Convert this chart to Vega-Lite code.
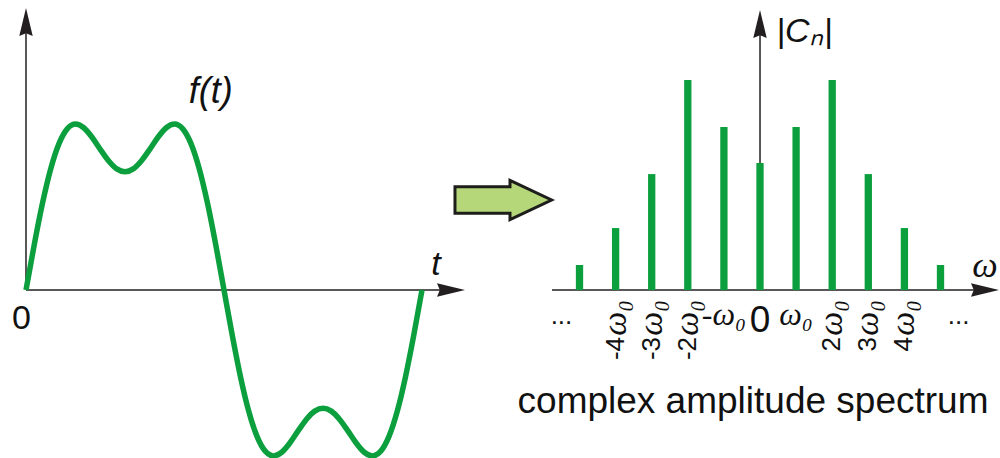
{
  "$schema": "https://vega.github.io/schema/vega-lite/v6.json",
  "width": 1000,
  "height": 458,
  "padding": 0,
  "autosize": "none",
  "background": "white",
  "config": {"view": {"stroke": null}},
  "datasets": {
    "signal": [
      {"t": 0, "f": 0}, {"t": 7.5, "f": 0.2568}, {"t": 15, "f": 0.4921}, {"t": 22.5, "f": 0.6876},
      {"t": 30, "f": 0.83}, {"t": 37.5, "f": 0.9137}, {"t": 45, "f": 0.9404}, {"t": 52.5, "f": 0.9197},
      {"t": 60, "f": 0.866}, {"t": 67.5, "f": 0.7976}, {"t": 75, "f": 0.7326}, {"t": 82.5, "f": 0.6865},
      {"t": 90, "f": 0.67}, {"t": 97.5, "f": 0.6865}, {"t": 105, "f": 0.7326}, {"t": 112.5, "f": 0.7976},
      {"t": 120, "f": 0.866}, {"t": 127.5, "f": 0.9197}, {"t": 135, "f": 0.9404}, {"t": 142.5, "f": 0.9137},
      {"t": 150, "f": 0.83}, {"t": 157.5, "f": 0.6876}, {"t": 165, "f": 0.4921}, {"t": 172.5, "f": 0.2568},
      {"t": 180, "f": 0}, {"t": 187.5, "f": -0.2568}, {"t": 195, "f": -0.4921}, {"t": 202.5, "f": -0.6876},
      {"t": 210, "f": -0.83}, {"t": 217.5, "f": -0.9137}, {"t": 225, "f": -0.9404}, {"t": 232.5, "f": -0.9197},
      {"t": 240, "f": -0.866}, {"t": 247.5, "f": -0.7976}, {"t": 255, "f": -0.7326}, {"t": 262.5, "f": -0.6865},
      {"t": 270, "f": -0.67}, {"t": 277.5, "f": -0.6865}, {"t": 285, "f": -0.7326}, {"t": 292.5, "f": -0.7976},
      {"t": 300, "f": -0.866}, {"t": 307.5, "f": -0.9197}, {"t": 315, "f": -0.9404}, {"t": 322.5, "f": -0.9137},
      {"t": 330, "f": -0.83}, {"t": 337.5, "f": -0.6876}, {"t": 345, "f": -0.4921}, {"t": 352.5, "f": -0.2568},
      {"t": 360, "f": 0}
    ],
    "spectrum": [
      {"n": -5, "mag": 0.119, "coef": ""}, {"n": -4, "mag": 0.295, "coef": "-4"}, {"n": -3, "mag": 0.552, "coef": "-3"},
      {"n": -2, "mag": 1.0, "coef": "-2"}, {"n": -1, "mag": 0.776, "coef": "-"}, {"n": 0, "mag": 0.605, "coef": "0"},
      {"n": 1, "mag": 0.776, "coef": ""}, {"n": 2, "mag": 1.0, "coef": "2"}, {"n": 3, "mag": 0.552, "coef": "3"},
      {"n": 4, "mag": 0.295, "coef": "4"}, {"n": 5, "mag": 0.119, "coef": ""}
    ]
  },
  "layer": [
    {
      "layer": [
        {
          "data": {"values": [{"axis": "t"}]},
          "mark": {"type": "rule", "stroke": "#231f20", "strokeWidth": 1.5},
          "encoding": {
            "x": {"datum": 0, "type": "quantitative", "scale": {"domain": [-23.636, 885.455], "nice": false, "zero": false}, "axis": null},
            "x2": {"datum": 392},
            "y": {"datum": 0, "type": "quantitative", "scale": {"domain": [-0.9524, 1.644], "nice": false, "zero": false}, "axis": null}
          }
        },
        {
          "data": {"values": [{"axis": "f"}]},
          "mark": {"type": "rule", "stroke": "#231f20", "strokeWidth": 1.5},
          "encoding": {
            "x": {"datum": 0, "type": "quantitative", "scale": {"domain": [-23.636, 885.455], "nice": false, "zero": false}, "axis": null},
            "y": {"datum": 0, "type": "quantitative", "scale": {"domain": [-0.9524, 1.644], "nice": false, "zero": false}, "axis": null},
            "y2": {"datum": 1.55}
          }
        },
        {
          "data": {"name": "signal"},
          "mark": {"type": "line", "stroke": "#0b9f3d", "strokeWidth": 5.5, "interpolate": "monotone", "strokeCap": "butt"},
          "encoding": {
            "x": {"field": "t", "type": "quantitative", "scale": {"domain": [-23.636, 885.455], "nice": false, "zero": false}, "axis": null},
            "y": {"field": "f", "type": "quantitative", "scale": {"domain": [-0.9524, 1.644], "nice": false, "zero": false}, "axis": null}
          }
        },
        {
          "data": {"values": [{"axis": "t"}]},
          "mark": {"type": "point", "shape": "M0,0 L-1,-0.24 L-0.9,0 L-1,0.24 Z", "size": 3136, "filled": true, "fill": "#231f20", "strokeWidth": 0, "opacity": 1},
          "encoding": {
            "x": {"datum": 399.1, "type": "quantitative", "scale": {"domain": [-23.636, 885.455], "nice": false, "zero": false}, "axis": null},
            "y": {"datum": 0, "type": "quantitative", "scale": {"domain": [-0.9524, 1.644], "nice": false, "zero": false}, "axis": null}
          }
        },
        {
          "data": {"values": [{"axis": "f"}]},
          "mark": {"type": "point", "shape": "M0,0 L0.24,1 L0,0.9 L-0.24,1 Z", "size": 3136, "filled": true, "fill": "#231f20", "strokeWidth": 0, "opacity": 1},
          "encoding": {
            "x": {"datum": 0, "type": "quantitative", "scale": {"domain": [-23.636, 885.455], "nice": false, "zero": false}, "axis": null},
            "y": {"datum": 1.5986, "type": "quantitative", "scale": {"domain": [-0.9524, 1.644], "nice": false, "zero": false}, "axis": null}
          }
        },
        {
          "data": {"values": [{"label": "0"}]},
          "mark": {"type": "text", "font": "Liberation Sans", "fontSize": 34, "align": "center", "baseline": "middle", "fill": "#111"},
          "encoding": {
            "x": {"datum": -4.09, "type": "quantitative", "scale": {"domain": [-23.636, 885.455], "nice": false, "zero": false}, "axis": null},
            "y": {"datum": -0.167, "type": "quantitative", "scale": {"domain": [-0.9524, 1.644], "nice": false, "zero": false}, "axis": null},
            "text": {"field": "label"}
          }
        },
        {
          "data": {"values": [{"label": "f(t)"}]},
          "mark": {"type": "text", "font": "Liberation Sans", "fontSize": 36, "fontStyle": "italic", "align": "center", "baseline": "middle", "fill": "#111"},
          "encoding": {
            "x": {"datum": 168, "type": "quantitative", "scale": {"domain": [-23.636, 885.455], "nice": false, "zero": false}, "axis": null},
            "y": {"datum": 1.12, "type": "quantitative", "scale": {"domain": [-0.9524, 1.644], "nice": false, "zero": false}, "axis": null},
            "text": {"field": "label"}
          }
        },
        {
          "data": {"values": [{"label": "t"}]},
          "mark": {"type": "text", "font": "Liberation Sans", "fontSize": 34, "fontStyle": "italic", "align": "center", "baseline": "middle", "fill": "#111"},
          "encoding": {
            "x": {"datum": 372.7, "type": "quantitative", "scale": {"domain": [-23.636, 885.455], "nice": false, "zero": false}, "axis": null},
            "y": {"datum": 0.1417, "type": "quantitative", "scale": {"domain": [-0.9524, 1.644], "nice": false, "zero": false}, "axis": null},
            "text": {"field": "label"}
          }
        },
        {
          "data": {"values": [{"label": "transform"}]},
          "mark": {"type": "point", "shape": "M-1,-0.276 L0.139,-0.276 L0.139,-0.407 L1,0 L0.139,0.407 L0.139,0.276 L-1,0.276 Z", "size": 9332, "filled": true, "fill": "#b5d77a", "stroke": "#1d1d1b", "strokeWidth": 3, "strokeJoin": "miter", "opacity": 1},
          "encoding": {
            "x": {"datum": 433.9, "type": "quantitative", "scale": {"domain": [-23.636, 885.455], "nice": false, "zero": false}, "axis": null},
            "y": {"datum": 0.5102, "type": "quantitative", "scale": {"domain": [-0.9524, 1.644], "nice": false, "zero": false}, "axis": null}
          }
        }
      ]
    },
    {
      "layer": [
        {
          "data": {"values": [{"axis": "omega"}]},
          "mark": {"type": "rule", "stroke": "#231f20", "strokeWidth": 1.5},
          "encoding": {
            "x": {"datum": -5.762, "type": "quantitative", "scale": {"domain": [-21.053, 6.648], "nice": false, "zero": false}, "axis": null},
            "x2": {"datum": 6.4},
            "y": {"datum": 0, "type": "quantitative", "scale": {"domain": [-0.8, 1.38095], "nice": false, "zero": false}, "axis": null}
          }
        },
        {
          "data": {"values": [{"axis": "Cn"}]},
          "mark": {"type": "rule", "stroke": "#231f20", "strokeWidth": 1.5},
          "encoding": {
            "x": {"datum": 0, "type": "quantitative", "scale": {"domain": [-21.053, 6.648], "nice": false, "zero": false}, "axis": null},
            "y": {"datum": 0, "type": "quantitative", "scale": {"domain": [-0.8, 1.38095], "nice": false, "zero": false}, "axis": null},
            "y2": {"datum": 1.28}
          }
        },
        {
          "data": {"name": "spectrum"},
          "mark": {"type": "rule", "stroke": "#0b9f3d", "strokeWidth": 7.3, "strokeCap": "butt"},
          "encoding": {
            "x": {"field": "n", "type": "quantitative", "scale": {"domain": [-21.053, 6.648], "nice": false, "zero": false}, "axis": null},
            "y": {"field": "mag", "type": "quantitative", "scale": {"domain": [-0.8, 1.38095], "nice": false, "zero": false}, "axis": null},
            "y2": {"datum": 0}
          }
        },
        {
          "data": {"values": [{"axis": "omega"}]},
          "mark": {"type": "point", "shape": "M0,0 L-1,-0.24 L-0.9,0 L-1,0.24 Z", "size": 3136, "filled": true, "fill": "#231f20", "strokeWidth": 0, "opacity": 1},
          "encoding": {
            "x": {"datum": 6.62, "type": "quantitative", "scale": {"domain": [-21.053, 6.648], "nice": false, "zero": false}, "axis": null},
            "y": {"datum": 0, "type": "quantitative", "scale": {"domain": [-0.8, 1.38095], "nice": false, "zero": false}, "axis": null}
          }
        },
        {
          "data": {"values": [{"axis": "Cn"}]},
          "mark": {"type": "point", "shape": "M0,0 L0.24,1 L0,0.9 L-0.24,1 Z", "size": 3136, "filled": true, "fill": "#231f20", "strokeWidth": 0, "opacity": 1},
          "encoding": {
            "x": {"datum": 0, "type": "quantitative", "scale": {"domain": [-21.053, 6.648], "nice": false, "zero": false}, "axis": null},
            "y": {"datum": 1.3333, "type": "quantitative", "scale": {"domain": [-0.8, 1.38095], "nice": false, "zero": false}, "axis": null}
          }
        },
        {
          "data": {"name": "spectrum"},
          "transform": [{"filter": "abs(datum.n) >= 2 && abs(datum.n) <= 4"}],
          "mark": {"type": "text", "font": "Liberation Serif", "fontSize": 34, "fontStyle": "italic", "angle": 270, "align": "right", "baseline": "middle", "fill": "#111", "text": "ω₀"},
          "encoding": {
            "x": {"field": "n", "type": "quantitative", "scale": {"domain": [-21.053, 6.648], "nice": false, "zero": false}, "axis": null},
            "y": {"datum": -0.0476, "type": "quantitative", "scale": {"domain": [-0.8, 1.38095], "nice": false, "zero": false}, "axis": null}
          }
        },
        {
          "data": {"name": "spectrum"},
          "transform": [{"filter": "abs(datum.n) >= 2 && abs(datum.n) <= 4"}],
          "mark": {"type": "text", "font": "Liberation Sans", "fontSize": 26, "angle": 270, "align": "right", "baseline": "middle", "fill": "#111"},
          "encoding": {
            "x": {"field": "n", "type": "quantitative", "scale": {"domain": [-21.053, 6.648], "nice": false, "zero": false}, "axis": null},
            "y": {"datum": -0.2238, "type": "quantitative", "scale": {"domain": [-0.8, 1.38095], "nice": false, "zero": false}, "axis": null},
            "text": {"field": "coef"}
          }
        },
        {
          "data": {"values": [{"n": -1, "label": "-ω₀"}, {"n": 1, "label": "ω₀"}]},
          "mark": {"type": "text", "font": "Liberation Serif", "fontSize": 32, "fontStyle": "italic", "align": "center", "baseline": "middle", "fill": "#111"},
          "encoding": {
            "x": {"field": "n", "type": "quantitative", "scale": {"domain": [-21.053, 6.648], "nice": false, "zero": false}, "axis": null},
            "y": {"datum": -0.119, "type": "quantitative", "scale": {"domain": [-0.8, 1.38095], "nice": false, "zero": false}, "axis": null},
            "text": {"field": "label"}
          }
        },
        {
          "data": {"values": [{"n": 0, "label": "0"}]},
          "mark": {"type": "text", "font": "Liberation Sans", "fontSize": 37, "align": "center", "baseline": "middle", "fill": "#111"},
          "encoding": {
            "x": {"field": "n", "type": "quantitative", "scale": {"domain": [-21.053, 6.648], "nice": false, "zero": false}, "axis": null},
            "y": {"datum": -0.148, "type": "quantitative", "scale": {"domain": [-0.8, 1.38095], "nice": false, "zero": false}, "axis": null},
            "text": {"field": "label"}
          }
        },
        {
          "data": {"values": [{"n": -5.5, "label": "..."}, {"n": 5.5, "label": "..."}]},
          "mark": {"type": "text", "font": "Liberation Sans", "fontSize": 26, "align": "center", "baseline": "alphabetic", "fill": "#111"},
          "encoding": {
            "x": {"field": "n", "type": "quantitative", "scale": {"domain": [-21.053, 6.648], "nice": false, "zero": false}, "axis": null},
            "y": {"datum": -0.162, "type": "quantitative", "scale": {"domain": [-0.8, 1.38095], "nice": false, "zero": false}, "axis": null},
            "text": {"field": "label"}
          }
        },
        {
          "data": {"values": [{"label": "|Cₙ|"}]},
          "mark": {"type": "text", "font": "Liberation Sans", "fontSize": 34, "fontStyle": "italic", "align": "left", "baseline": "middle", "fill": "#111"},
          "encoding": {
            "x": {"datum": 0.45, "type": "quantitative", "scale": {"domain": [-21.053, 6.648], "nice": false, "zero": false}, "axis": null},
            "y": {"datum": 1.23, "type": "quantitative", "scale": {"domain": [-0.8, 1.38095], "nice": false, "zero": false}, "axis": null},
            "text": {"field": "label"}
          }
        },
        {
          "data": {"values": [{"label": "ω"}]},
          "mark": {"type": "text", "font": "Liberation Serif", "fontSize": 36, "fontStyle": "italic", "align": "center", "baseline": "middle", "fill": "#111"},
          "encoding": {
            "x": {"datum": 6.233, "type": "quantitative", "scale": {"domain": [-21.053, 6.648], "nice": false, "zero": false}, "axis": null},
            "y": {"datum": 0.1143, "type": "quantitative", "scale": {"domain": [-0.8, 1.38095], "nice": false, "zero": false}, "axis": null},
            "text": {"field": "label"}
          }
        },
        {
          "data": {"values": [{"label": "complex amplitude spectrum"}]},
          "mark": {"type": "text", "font": "Liberation Sans", "fontSize": 37, "align": "center", "baseline": "alphabetic", "fill": "#111"},
          "encoding": {
            "x": {"datum": -0.194, "type": "quantitative", "scale": {"domain": [-21.053, 6.648], "nice": false, "zero": false}, "axis": null},
            "y": {"datum": -0.5857, "type": "quantitative", "scale": {"domain": [-0.8, 1.38095], "nice": false, "zero": false}, "axis": null},
            "text": {"field": "label"}
          }
        }
      ]
    }
  ],
  "resolve": {"scale": {"x": "independent", "y": "independent"}}
}
